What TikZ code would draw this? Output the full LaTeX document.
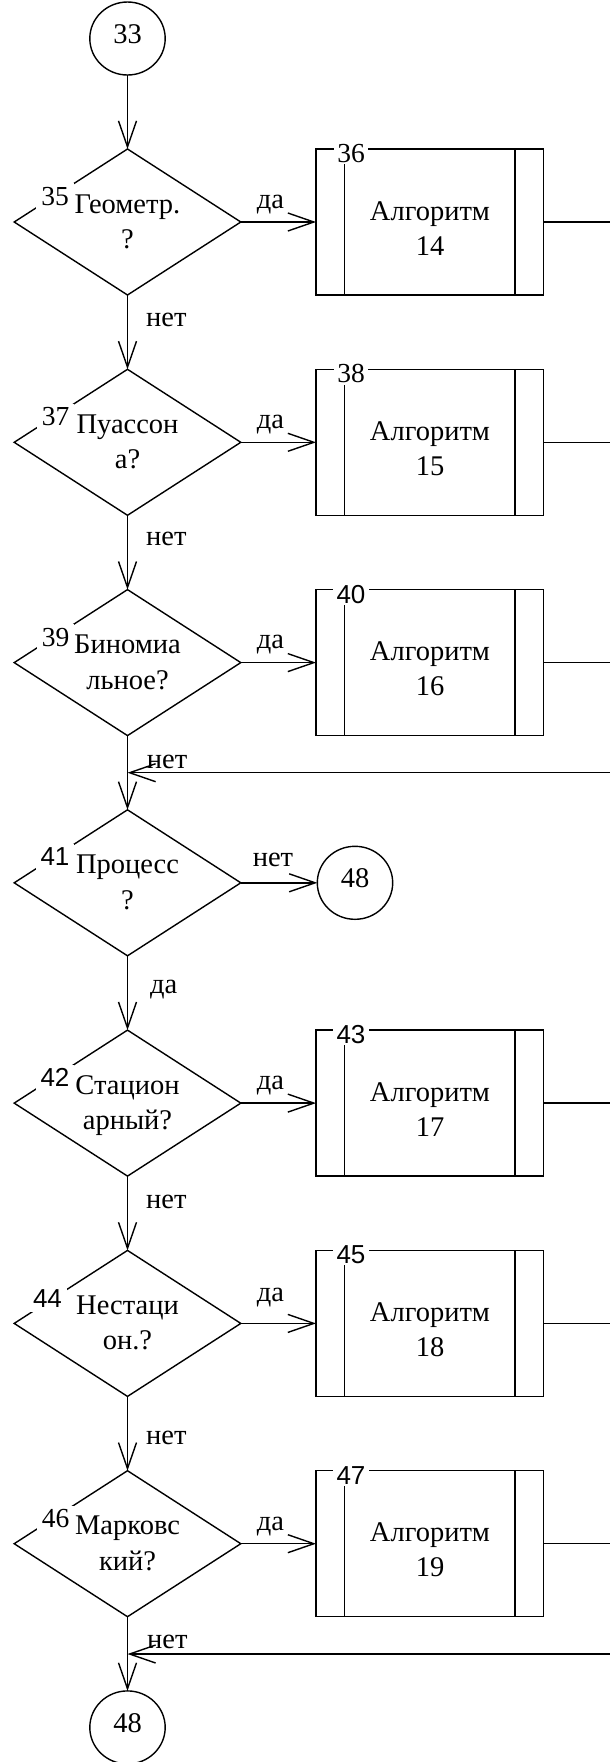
\documentclass[tikz,border=0pt]{standalone}
\usepackage{fontspec}
\setmainfont{Liberation Serif}
\newfontfamily\numsans{Liberation Sans}
\usetikzlibrary{shapes.geometric,arrows.meta}

\tikzset{
  ln/.style={line width=1.4pt},
  arr/.style={line width=1.4pt, -{Straight Barb[length=26pt,width=18pt]}},
  txt/.style={font=\fontsize{28.5}{34}\selectfont, inner sep=0pt},
  dia/.style={ln, draw, shape=diamond, inner sep=0pt, outer sep=0pt,
              minimum width=226.6pt, minimum height=146pt},
  conn/.style={ln, draw, shape=ellipse, inner sep=0pt, outer sep=0pt,
               minimum width=75.4pt, minimum height=73pt,
               font=\fontsize{28.5}{34}\selectfont, text height=19.5pt, text depth=10pt},
  proc/.style={ln, draw, inner sep=0pt, outer sep=0pt,
               minimum width=227.5pt, minimum height=146pt},
  dnum/.style={fill=white, inner xsep=5pt, inner ysep=4pt},
  bnum/.style={fill=white, inner xsep=3.5pt, inner ysep=1.5pt},
  snum/.style={font=\fontsize{27.5}{30}\selectfont},
  anum/.style={font=\numsans\fontsize{26}{30}\selectfont},
}

\newcommand\ProcBox[4]{%
  \node[proc] (b#1) at (429.75,#2) {};
  \draw[ln] ([xshift=28.5pt]b#1.north west) -- ([xshift=28.5pt]b#1.south west);
  \draw[ln] ([xshift=-28.5pt]b#1.north east) -- ([xshift=-28.5pt]b#1.south east);
  \node[txt,anchor=base] (b#1a) at (430,#2-2) {Алгоритм};
  \node[txt,anchor=base] (b#1b) at (430,#2+33) {#4};
  \node[bnum,#3] (n#1) at ([xshift=35pt,yshift=-4.5pt]b#1.north west) {#1};
  \coordinate (e#1) at (615,#2);
  \draw[ln] (b#1.east) -- (e#1);
}

\newcommand\DecRow[7]{% name, y, line1, line2, numstyle, numx, numdy
  \node[dia] (d#1) at (127.5,#2) {};
  \node[txt,anchor=base] (d#1a) at (127.5,#2-9) {#3};
  \node[txt,anchor=base] (d#1b) at (127.5,#2+26.5) {#4};
  \node[dnum,#5] (n#1) at (#6,#2+#7) {#1};
}

\begin{document}
\begin{tikzpicture}[x=1pt,y=-1pt]
\useasboundingbox (0,0) rectangle (610,1762);

% start connector
\node[conn] (c33) at (127.5,38.5) {33};

% decisions
\DecRow{35}{222}{Геометр.}{?}{snum}{55}{-25.5}
\DecRow{37}{442.3}{Пуассон}{а?}{snum}{55.5}{-25.5}
\DecRow{39}{662.6}{Биномиа}{льное?}{snum}{55.5}{-25}
\DecRow{41}{882.8}{Процесс}{?}{anum}{55}{-26}
\DecRow{42}{1103.1}{Стацион}{арный?}{anum}{55}{-25.3}
\DecRow{44}{1323.4}{Нестаци}{он.?}{anum}{47.5}{-24.5}
\DecRow{46}{1543.7}{Марковс}{кий?}{snum}{55.5}{-24.7}

% processes
\ProcBox{36}{222}{snum}{14}
\ProcBox{38}{442.3}{snum}{15}
\ProcBox{40}{662.6}{anum}{16}
\ProcBox{43}{1103.1}{anum}{17}
\ProcBox{45}{1323.4}{anum}{18}
\ProcBox{47}{1543.7}{anum}{19}

% connectors 48
\node[conn] (c48a) at (355,882.8) {48};
\node[conn] (c48b) at (127.5,1727.4) {48};

% vertical flow
\draw[arr] (c33.south) -- (d35.north);
\draw[arr] (d35.south) -- (d37.north);
\draw[arr] (d37.south) -- (d39.north);
\draw[arr] (d39.south) -- (d41.north);
\draw[arr] (d41.south) -- (d42.north);
\draw[arr] (d42.south) -- (d44.north);
\draw[arr] (d44.south) -- (d46.north);
\draw[arr] (d46.south) -- (c48b.north);

% yes branches
\draw[arr] (d35.east) -- (b36.west);
\draw[arr] (d37.east) -- (b38.west);
\draw[arr] (d39.east) -- (b40.west);
\draw[arr] (d41.east) -- (c48a.west);
\draw[arr] (d42.east) -- (b43.west);
\draw[arr] (d44.east) -- (b45.west);
\draw[arr] (d46.east) -- (b47.west);

% return lines
\coordinate (r1) at (615,772.7);
\coordinate (r2) at (615,1654);
\draw[arr] (r1) -- (r1 -| d39.south);
\draw[arr] (r2) -- (r2 -| d46.south);

% labels
\node[txt,anchor=base] (l35y) at (270.5,208) {да};
\node[txt,anchor=base] (l37y) at (270.5,428.3) {да};
\node[txt,anchor=base] (l39y) at (270.5,648) {да};
\node[txt,anchor=base] (l41n) at (273,866.7) {нет};
\node[txt,anchor=base] (l42y) at (270.5,1089) {да};
\node[txt,anchor=base] (l44y) at (270.5,1301.7) {да};
\node[txt,anchor=base] (l46y) at (270.5,1530.7) {да};

\node[txt,anchor=base west] (l35n) at (146,326.7) {нет};
\node[txt,anchor=base west] (l37n) at (146,545) {нет};
\node[txt,anchor=base west] (l39n) at (146.7,768.3) {нет};
\node[txt,anchor=base west] (l41y) at (150,993) {да};
\node[txt,anchor=base west] (l42n) at (146,1208) {нет};
\node[txt,anchor=base west] (l44n) at (146,1444) {нет};
\node[txt,anchor=base west] (l46n) at (147,1648) {нет};
\end{tikzpicture}
\end{document}
